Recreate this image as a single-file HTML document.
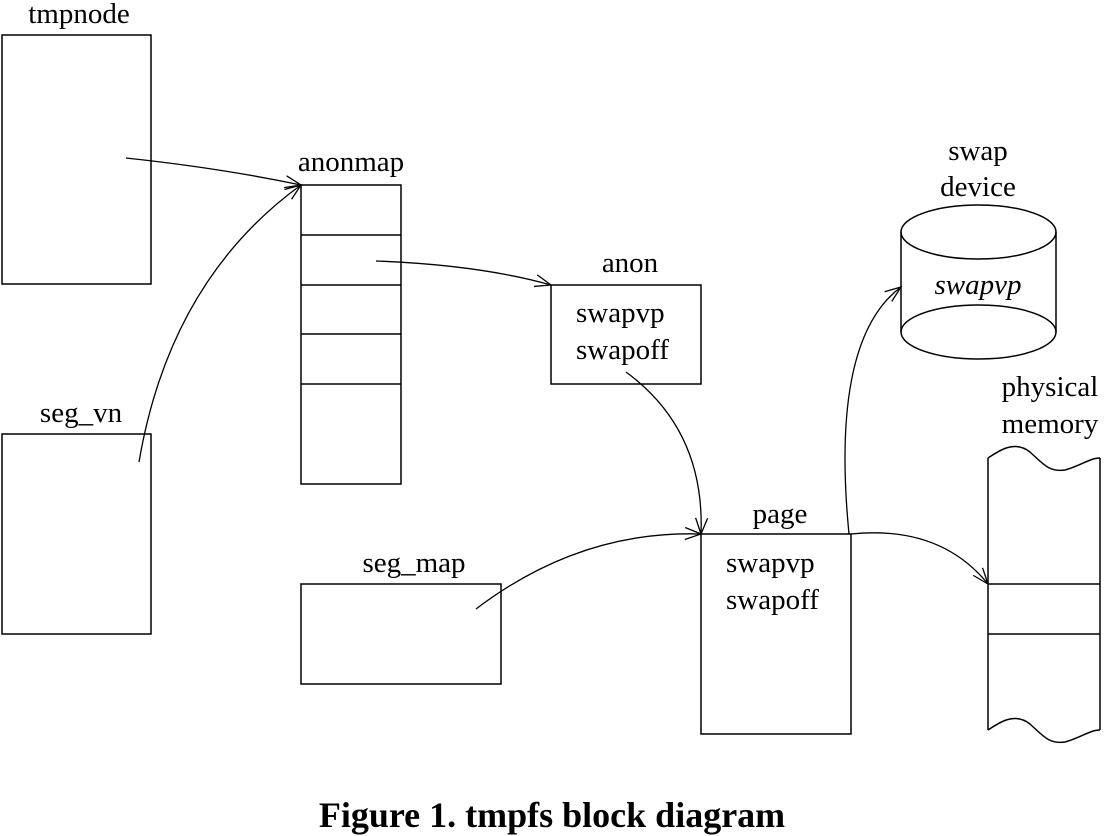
<!DOCTYPE html>
<html><head><style>
html,body{margin:0;padding:0;background:#fff;}
svg{display:block;}
text{font-family:"Liberation Serif",serif;font-size:29px;fill:#000;}
</style></head><body>
<svg width="1104" height="836" viewBox="0 0 1104 836" xmlns="http://www.w3.org/2000/svg">
<defs>
<marker id="a" markerWidth="20" markerHeight="14" refX="18" refY="7" orient="auto" markerUnits="userSpaceOnUse">
<path d="M2,1 L18,7 L2,13" fill="none" stroke="#000" stroke-width="1.3"/>
</marker>
</defs>
<g fill="none" stroke="#000" stroke-width="1.5">
<rect x="2" y="35" width="149" height="249"/>
<rect x="2" y="434" width="149" height="200"/>
<rect x="301" y="185" width="100" height="299"/>
<line x1="301" y1="235" x2="401" y2="235"/>
<line x1="301" y1="285" x2="401" y2="285"/>
<line x1="301" y1="334" x2="401" y2="334"/>
<line x1="301" y1="384" x2="401" y2="384"/>
<rect x="551" y="285" width="150" height="99"/>
<rect x="701" y="534" width="150" height="200"/>
<rect x="301" y="584" width="200" height="100"/>
<ellipse cx="978.5" cy="232" rx="77.5" ry="27"/>
<path d="M901,232 L901,332 M1056,232 L1056,332"/>
<ellipse cx="978.5" cy="332" rx="77.5" ry="27"/>
<path d="M988,458 C1000,450 1015,440 1030,452 C1045,466 1050,472 1065,470 C1080,466 1090,458 1100,458"/>
<path d="M988,458 L988,730 M1100,458 L1100,730"/>
<path d="M988,730 C1000,722 1015,712 1030,724 C1045,738 1050,744 1065,742 C1080,738 1090,730 1100,730"/>
<line x1="988" y1="584" x2="1100" y2="584"/>
<line x1="988" y1="634" x2="1100" y2="634"/>
</g>
<g fill="none" stroke="#000" stroke-width="1.3" marker-end="url(#a)">
<path d="M126,158 Q220,168 301,185"/>
<path d="M139,462 Q170,280 301,185"/>
<path d="M376,261 Q480,265 551,285"/>
<path d="M626,372 Q705,430 701,534"/>
<path d="M476,609 Q580,530 701,534"/>
<path d="M851,534 Q940,525 988,584"/>
<path d="M849,534 Q830,340 901,287"/>
</g>
<g text-anchor="middle">
<text x="79" y="23">tmpnode</text>
<text x="81" y="422">seg_vn</text>
<text x="351" y="171">anonmap</text>
<text x="630" y="272">anon</text>
<text x="978" y="160">swap</text>
<text x="978" y="196">device</text>
<text x="978" y="294" font-style="italic">swapvp</text>
<text x="1050" y="396">physical</text>
<text x="1050" y="433">memory</text>
<text x="780" y="523">page</text>
<text x="414" y="572">seg_map</text>
<text x="552" y="827" font-weight="bold" style="font-size:36px">Figure 1. tmpfs block diagram</text>
</g>
<text x="576" y="322">swapvp</text>
<text x="576" y="359">swapoff</text>
<text x="726" y="572">swapvp</text>
<text x="726" y="609">swapoff</text>
</svg>
</body></html>
